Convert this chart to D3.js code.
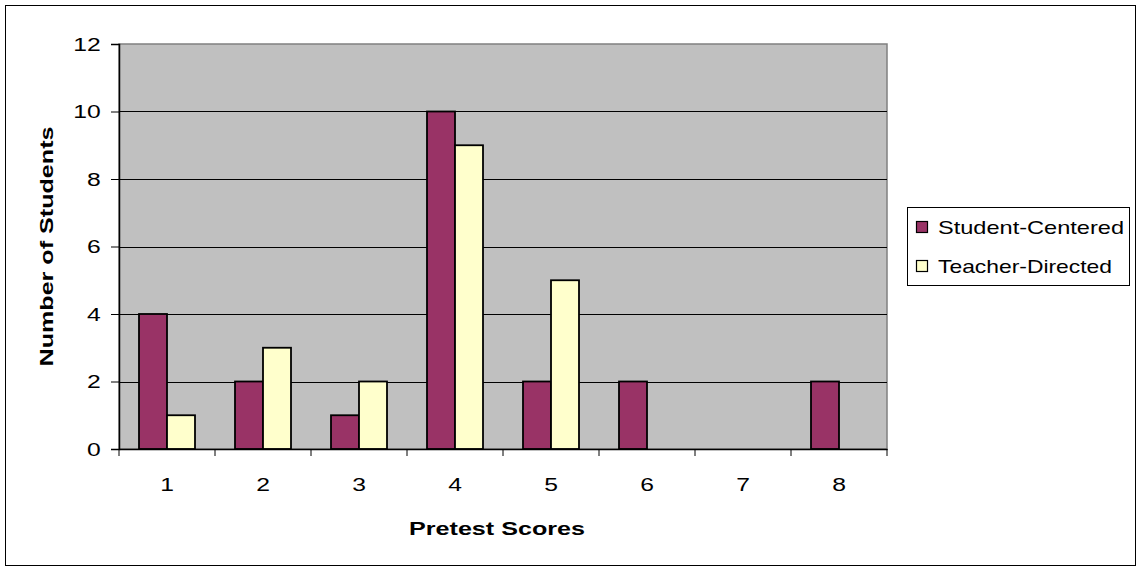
<html>
<head>
<meta charset="utf-8">
<script src="https://cdn.jsdelivr.net/npm/d3@7"></script>
<style>
body { margin: 0; background: #fff; }
svg text { font-family: Arial, "Liberation Sans", sans-serif; fill: #000; }
</style>
</head>
<body>
<svg id="chart" width="1139" height="567"></svg>
<script>
// data
var scores = ["1","2","3","4","5","6","7","8"];
var seriesNames = ["Student-Centered","Teacher-Directed"];
var studentCentered = [4,2,1,10,2,2,0,2];
var teacherDirected = [1,3,2,9,5,0,0,0];
var yTicks = [0,2,4,6,8,10,12];

var colors = {"Student-Centered":"#993366","Teacher-Directed":"#FFFFCC"};

var svg = d3.select("#chart"),
    plot = {left:119, right:887, top:44, bottom:449};

// outer frame
svg.append("rect")
    .attr("x",5.5).attr("y",5.5)
    .attr("width",1130).attr("height",560)
    .attr("fill","#fff").attr("stroke","#000").attr("stroke-width",1);

var x = d3.scaleBand().domain(scores).range([plot.left,plot.right]);
var x1 = d3.scaleBand().domain(seriesNames).range([0,x.bandwidth()])
    .paddingInner(0).paddingOuter(20/28);
var y = d3.scaleLinear().domain([0,12]).range([plot.bottom,plot.top]);

// plot background
svg.append("rect")
    .attr("x",plot.left).attr("y",plot.top)
    .attr("width",plot.right-plot.left).attr("height",plot.bottom-plot.top)
    .attr("fill","#C0C0C0").attr("stroke","#808080").attr("stroke-width",1.5);

// gridlines
svg.append("g").selectAll("line")
    .data(yTicks.filter(function(d){return d>0 && d<12;}))
    .enter().append("line")
    .attr("x1",plot.left).attr("x2",plot.right)
    .attr("y1",function(d){return Math.round(y(d))+0.5;})
    .attr("y2",function(d){return Math.round(y(d))+0.5;})
    .attr("stroke","#000").attr("stroke-width",1);

// bars
var rows = scores.map(function(s,i){
    return {score:s, vals:[{name:seriesNames[0],v:studentCentered[i]},{name:seriesNames[1],v:teacherDirected[i]}]};
});
var groups = svg.append("g").selectAll("g").data(rows).enter().append("g")
    .attr("transform",function(d){return "translate("+x(d.score)+",0)";});
groups.selectAll("rect")
    .data(function(d){return d.vals.filter(function(e){return e.v>0;});})
    .enter().append("rect")
    .attr("x",function(d){return x1(d.name);})
    .attr("y",function(d){return y(d.v);})
    .attr("width",x1.bandwidth())
    .attr("height",function(d){return y(0)-y(d.v);})
    .attr("fill",function(d){return colors[d.name];})
    .attr("stroke","#000").attr("stroke-width",1.8);

// y axis
var yAxis = svg.append("g")
    .attr("transform","translate("+plot.left+",0)")
    .call(d3.axisLeft(y).tickValues(yTicks).tickSize(8).tickPadding(6).tickFormat(d3.format("d")));
yAxis.select(".domain").attr("stroke","#000").attr("stroke-width",1.5);
yAxis.selectAll("text").attr("font-size",19).attr("font-family","Arial, 'Liberation Sans', sans-serif")
    .attr("transform","scale(1.3,1)");

// x axis: labels at band centres, ticks at band edges
var xAxis = svg.append("g")
    .attr("transform","translate(0,"+plot.bottom+")")
    .call(d3.axisBottom(x).tickSize(0).tickPadding(29));
xAxis.select(".domain").attr("stroke","#000").attr("stroke-width",1.5);
xAxis.selectAll(".tick text").attr("font-size",19).attr("font-family","Arial, 'Liberation Sans', sans-serif")
    .attr("transform","scale(1.3,1)");
svg.append("g").selectAll("line")
    .data(scores.map(function(s){return x(s);}).concat([plot.right]))
    .enter().append("line")
    .attr("x1",function(d){return d;}).attr("x2",function(d){return d;})
    .attr("y1",plot.bottom).attr("y2",plot.bottom+7)
    .attr("stroke","#000").attr("stroke-width",1);

// axis titles
svg.append("text")
    .attr("x",(plot.left+plot.right)/2-6).attr("y",535)
    .attr("text-anchor","middle").attr("font-size",18).attr("font-weight","bold")
    .attr("textLength",176).attr("lengthAdjust","spacingAndGlyphs")
    .text("Pretest Scores");
svg.append("text")
    .attr("transform","translate(53,"+((plot.top+plot.bottom)/2)+") rotate(-90)")
    .attr("text-anchor","middle").attr("font-size",18).attr("font-weight","bold")
    .attr("textLength",240).attr("lengthAdjust","spacingAndGlyphs")
    .text("Number of Students");

// legend
var legend = svg.append("g");
legend.append("rect")
    .attr("x",907.5).attr("y",207.5).attr("width",222).attr("height",78)
    .attr("fill","#fff").attr("stroke","#000").attr("stroke-width",1);
var items = legend.selectAll("g.item").data(seriesNames).enter().append("g")
    .attr("class","item")
    .attr("transform",function(d,i){return "translate(916,"+(227+i*39)+")";});
items.append("rect")
    .attr("x",0.5).attr("y",-5.5).attr("width",11).attr("height",11)
    .attr("fill",function(d){return colors[d];})
    .attr("stroke","#000").attr("stroke-width",1.2);
items.append("text")
    .attr("x",22).attr("y",7)
    .attr("font-size",19)
    .attr("textLength",function(d,i){return i==0?186:174;}).attr("lengthAdjust","spacingAndGlyphs")
    .text(function(d){return d;});
</script>
</body>
</html>
